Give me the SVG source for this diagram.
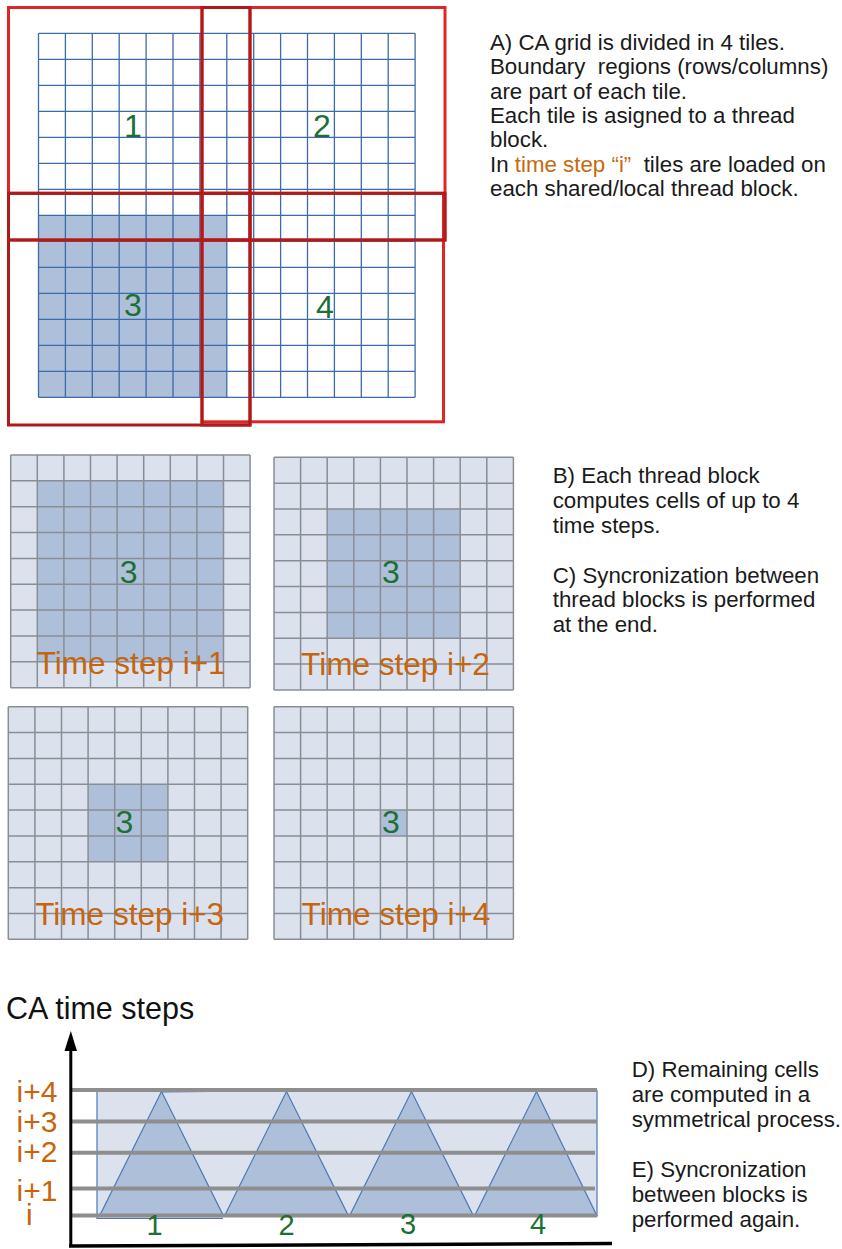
<svg xmlns="http://www.w3.org/2000/svg" xmlns:xlink="http://www.w3.org/1999/xlink" width="842" height="1249" viewBox="0 0 842 1249">
<style>
text{font-family:"Liberation Sans",Arial,sans-serif}
.body{font-size:22.3px;fill:#1a1a1a;white-space:pre}
.org{fill:#c8690f}
.num{font-size:32px;fill:#1d6f35;text-anchor:middle}
.ts{font-size:31.5px;fill:#c5650f;text-anchor:middle}
.bg{fill:#dbe2ed}
.sh{fill:#adbfd9}
.gl{fill:none;stroke:#8a8e94;stroke-width:1.5}
.bl{fill:none;stroke:#3b6ba8;stroke-width:1.3}
.rb{fill:none;stroke:#de2626;stroke-width:3}
.rd{fill:none;stroke:#b01a1a;stroke-width:3}
.tri{fill:#aebfd9;stroke:#4a78b5;stroke-width:1.2}
.gray{stroke:#8e8e8e;stroke-width:4}
.lab{font-size:30px;fill:#c8650c}
</style>
<defs>
<path id="g9" class="gl" d="M0 0V232.65M26.6 0V232.65M53.2 0V232.65M79.8 0V232.65M106.4 0V232.65M133 0V232.65M159.6 0V232.65M186.2 0V232.65M212.8 0V232.65M239.4 0V232.65M0 0H239.4M0 25.85H239.4M0 51.7H239.4M0 77.55H239.4M0 103.4H239.4M0 129.25H239.4M0 155.1H239.4M0 180.95H239.4M0 206.8H239.4M0 232.65H239.4"/>
</defs>

<g id="ca-grid">
<rect class="sh" x="38.5" y="215.3" width="188.3" height="182"/>
<path class="bl" d="M38.5 33.3V397.3M65.4 33.3V397.3M92.3 33.3V397.3M119.2 33.3V397.3M146.1 33.3V397.3M173 33.3V397.3M199.9 33.3V397.3M226.8 33.3V397.3M253.7 33.3V397.3M280.6 33.3V397.3M307.5 33.3V397.3M334.4 33.3V397.3M361.3 33.3V397.3M388.2 33.3V397.3M415.1 33.3V397.3M38.5 33.3H415.1M38.5 59.3H415.1M38.5 85.3H415.1M38.5 111.3H415.1M38.5 137.3H415.1M38.5 163.3H415.1M38.5 189.3H415.1M38.5 215.3H415.1M38.5 241.3H415.1M38.5 267.3H415.1M38.5 293.3H415.1M38.5 319.3H415.1M38.5 345.3H415.1M38.5 371.3H415.1M38.5 397.3H415.1"/>
<text class="num" x="133" y="137">1</text>
<text class="num" x="322" y="137">2</text>
<text class="num" x="133" y="316">3</text>
<text class="num" x="325" y="318">4</text>
</g>

<g id="tiles">
<rect class="rb" x="8.5" y="7.5" width="241.5" height="232.5"/>
<rect class="rb" x="202" y="7.5" width="243" height="232.5"/>
<rect class="rb" x="202" y="193.3" width="241.5" height="228.5"/>
<rect class="rd" x="8.5" y="193.3" width="241.5" height="231.7"/>
<rect class="rd" x="202" y="7.5" width="48" height="417.5"/>
<rect class="rd" x="8.5" y="193.3" width="436.5" height="46.7"/>
</g>

<g id="text-a">
<text class="body" x="490" y="50">A) CA grid is divided in 4 tiles.</text>
<text class="body" x="490" y="74.3">Boundary  regions (rows/columns)</text>
<text class="body" x="490" y="98.6">are part of each tile.</text>
<text class="body" x="490" y="122.9">Each tile is asigned to a thread</text>
<text class="body" x="490" y="147.2">block.</text>
<text class="body" x="490" y="171.5">In <tspan class="org">time step “i”</tspan>  tiles are loaded on</text>
<text class="body" x="490" y="195.8">each shared/local thread block.</text>
</g>

<g id="step1" transform="translate(10.7,455)">
<rect class="bg" width="239.4" height="232.65"/>
<rect class="sh" x="26.6" y="25.85" width="186.2" height="180.95"/>
<use xlink:href="#g9" href="#g9"/>
<text class="num" x="118" y="128">3</text>
<text class="ts" x="120.5" y="218.5">Time step i+1</text>
</g>

<g id="step2" transform="translate(274,457.3)">
<rect class="bg" width="239.4" height="232.65"/>
<rect class="sh" x="53.2" y="51.7" width="133" height="129.25"/>
<use xlink:href="#g9" href="#g9"/>
<text class="num" x="117" y="125.7">3</text>
<text class="ts" x="121.5" y="218">Time step i+2</text>
</g>

<g id="step3" transform="translate(8.3,706.7)">
<rect class="bg" width="239.4" height="232.65"/>
<rect class="sh" x="79.8" y="77.55" width="79.8" height="77.55"/>
<use xlink:href="#g9" href="#g9"/>
<text class="num" x="116" y="126.3">3</text>
<text class="ts" x="121.4" y="218.5">Time step i+3</text>
</g>

<g id="step4" transform="translate(274,706.7)">
<rect class="bg" width="239.4" height="232.65"/>
<rect class="sh" x="106.4" y="103.4" width="26.6" height="25.85"/>
<use xlink:href="#g9" href="#g9"/>
<text class="num" x="117" y="126.3">3</text>
<text class="ts" x="122" y="218.5">Time step i+4</text>
</g>

<g id="text-bc">
<text class="body" x="552.7" y="483.3">B) Each thread block</text>
<text class="body" x="552.7" y="508.1">computes cells of up to 4</text>
<text class="body" x="552.7" y="532.9">time steps.</text>
<text class="body" x="552.7" y="582.5">C) Syncronization between</text>
<text class="body" x="552.7" y="607.3">thread blocks is performed</text>
<text class="body" x="552.7" y="632.1">at the end.</text>
</g>

<g id="timeline">
<text x="6" y="1019" style="font-size:30.5px;fill:#111">CA time steps</text>
<rect class="bg" x="97" y="1090" width="500" height="127"/>
<polygon class="tri" points="99.5,1216 161.5,1091.5 223.5,1216"/>
<polygon class="tri" points="224.5,1216 286.5,1091.5 348.5,1216"/>
<polygon class="tri" points="349.5,1216 411.5,1091.5 473.5,1216"/>
<polygon class="tri" points="474.5,1216 536.5,1091.5 597,1216"/>
<path fill="none" stroke="#4a78b5" stroke-width="1.2" d="M97 1090V1218.3H223M597 1090V1216M161.5 1092L286.5 1090.5"/>
<g class="gray">
<line x1="72" y1="1090" x2="597" y2="1090"/>
<line x1="72" y1="1121.5" x2="597" y2="1121.5"/>
<line x1="72" y1="1152.7" x2="595" y2="1152.7"/>
<line x1="72" y1="1188.5" x2="595" y2="1188.5"/>
<line x1="72" y1="1215.5" x2="597" y2="1215.5"/>
</g>
<line x1="70.8" y1="1247" x2="70.8" y2="1048" stroke="#000" stroke-width="3"/>
<polygon points="70.8,1031 64.5,1051 77,1051" fill="#000"/>
<line x1="69" y1="1246" x2="612" y2="1243.5" stroke="#000" stroke-width="3.5"/>
<text class="lab" x="16.5" y="1101.7">i+4</text>
<text class="lab" x="16.5" y="1131.7">i+3</text>
<text class="lab" x="16.5" y="1161.7">i+2</text>
<text class="lab" x="16.5" y="1200.7">i+1</text>
<text class="lab" x="26" y="1225">i</text>
<text class="num" x="154.5" y="1235" style="font-size:29px">1</text>
<text class="num" x="286.5" y="1235" style="font-size:29px">2</text>
<text class="num" x="408" y="1233.5" style="font-size:29px">3</text>
<text class="num" x="538" y="1233.5" style="font-size:29px">4</text>
</g>

<g id="text-de">
<text class="body" x="631.7" y="1076.7">D) Remaining cells</text>
<text class="body" x="631.7" y="1101.7">are computed in a</text>
<text class="body" x="631.7" y="1126.5">symmetrical process.</text>
<text class="body" x="631.7" y="1176.7">E) Syncronization</text>
<text class="body" x="631.7" y="1201.7">between blocks is</text>
<text class="body" x="631.7" y="1226.7">performed again.</text>
</g>
</svg>
